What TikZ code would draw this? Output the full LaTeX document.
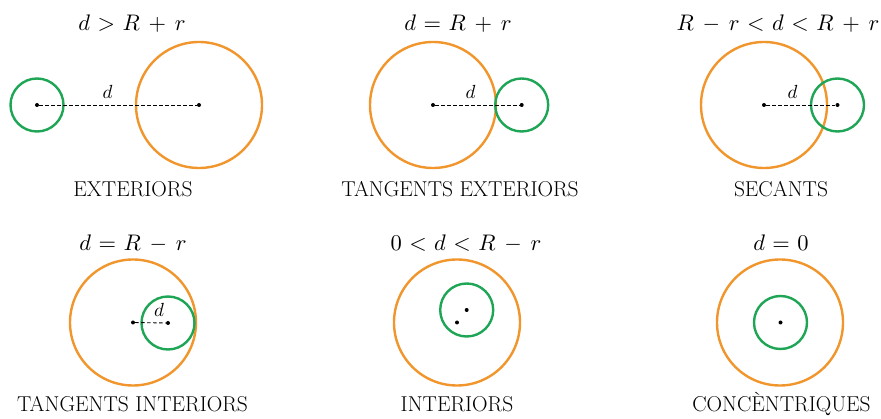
\documentclass[tikz,border=0pt]{standalone}
\definecolor{orng}{RGB}{240,150,45}
\definecolor{grn}{RGB}{30,165,85}
\newcommand\fml[1]{$\thickmuskip=6mu\medmuskip=7mu #1$}
\begin{document}
\begin{tikzpicture}[x=1pt,y=-1pt,
  bigc/.style={circle,draw=orng,line width=2.4pt,minimum size=126pt,inner sep=0pt},
  smallc/.style={circle,draw=grn,line width=2.4pt,minimum size=53pt,inner sep=0pt},
  ctr/.style={circle,fill=black,inner sep=0pt,minimum size=4pt},
  dist/.style={dash pattern=on 3.5pt off 2.5pt,line width=0.9pt},
  formula/.style={anchor=base,inner sep=0pt,font=\fontsize{10}{12}\selectfont,scale=2.25,transform shape},
  caption/.style={anchor=base,inner sep=0pt,font=\fontsize{21.5}{24}\selectfont},
  dlab/.style={anchor=base,inner sep=0pt,font=\fontsize{10}{12}\selectfont,scale=1.9,transform shape}]
\useasboundingbox (0,0) rectangle (881,419);
% ---------- panel 1: exteriors
\node[bigc] (O1) at (199,105) {};
\node[smallc] (G1) at (37,105) {};
\node[ctr] (o1) at (199,105) {};
\node[ctr] (g1) at (37,105) {};
\draw[dist] (g1) -- (o1);
\node[dlab] (d1) at (107.5,98.5) {$d$};
\node[formula] (f1) at (132,30.5) {\fml{d > R + r}};
\node[caption] (t1) at (133,197) {EXTERIORS};
% ---------- panel 2: tangents exteriors
\node[bigc] (O2) at (433,105) {};
\node[smallc] (G2) at (521.7,105) {};
\node[ctr] (o2) at (433,105) {};
\node[ctr] (g2) at (521.7,105) {};
\draw[dist] (o2) -- (g2);
\node[dlab] (d2) at (470.5,98.5) {$d$};
\node[formula] (f2) at (458,30.5) {\fml{d = R + r}};
\node[caption] (t2) at (460,197) {TANGENTS EXTERIORS};
% ---------- panel 3: secants
\node[bigc] (O3) at (764,105) {};
\node[smallc] (G3) at (837.5,105) {};
\node[ctr] (o3) at (764,105) {};
\node[ctr] (g3) at (837.5,105) {};
\draw[dist] (o3) -- (g3);
\node[dlab] (d3) at (792.5,99) {$d$};
\node[formula] (f3) at (778,30.5) {\fml{R - r < d < R + r}};
\node[caption] (t3) at (781,197) {SECANTS};
% ---------- panel 4: tangents interiors
\node[bigc] (O4) at (133,322.5) {};
\node[smallc] (G4) at (168,323) {};
\node[ctr] (o4) at (133,322.5) {};
\node[ctr] (g4) at (168,323) {};
\draw[dist] (o4) -- (g4);
\node[dlab] (d4) at (159,316.5) {$d$};
\node[formula] (f4) at (133,250.5) {\fml{d = R - r}};
\node[caption] (t4) at (132.5,411.5) {TANGENTS INTERIORS};
% ---------- panel 5: interiors
\node[bigc] (O5) at (457,322.5) {};
\node[smallc] (G5) at (466.7,310) {};
\node[ctr] (o5) at (457,322.5) {};
\node[ctr] (g5) at (466.7,310) {};
\node[formula] (f5) at (466,250.5) {\fml{0 < d < R - r}};
\node[caption] (t5) at (457,411.5) {INTERIORS};
% ---------- panel 6: concentriques
\node[bigc] (O6) at (780,322.5) {};
\node[smallc] (G6) at (780.5,322.5) {};
\node[ctr] (o6) at (780.5,322.5) {};
\node[formula] (f6) at (781,250.5) {\fml{d = 0}};
\node[caption] (t6) at (781.5,411.5) {CONCÈNTRIQUES};
\end{tikzpicture}
\end{document}
